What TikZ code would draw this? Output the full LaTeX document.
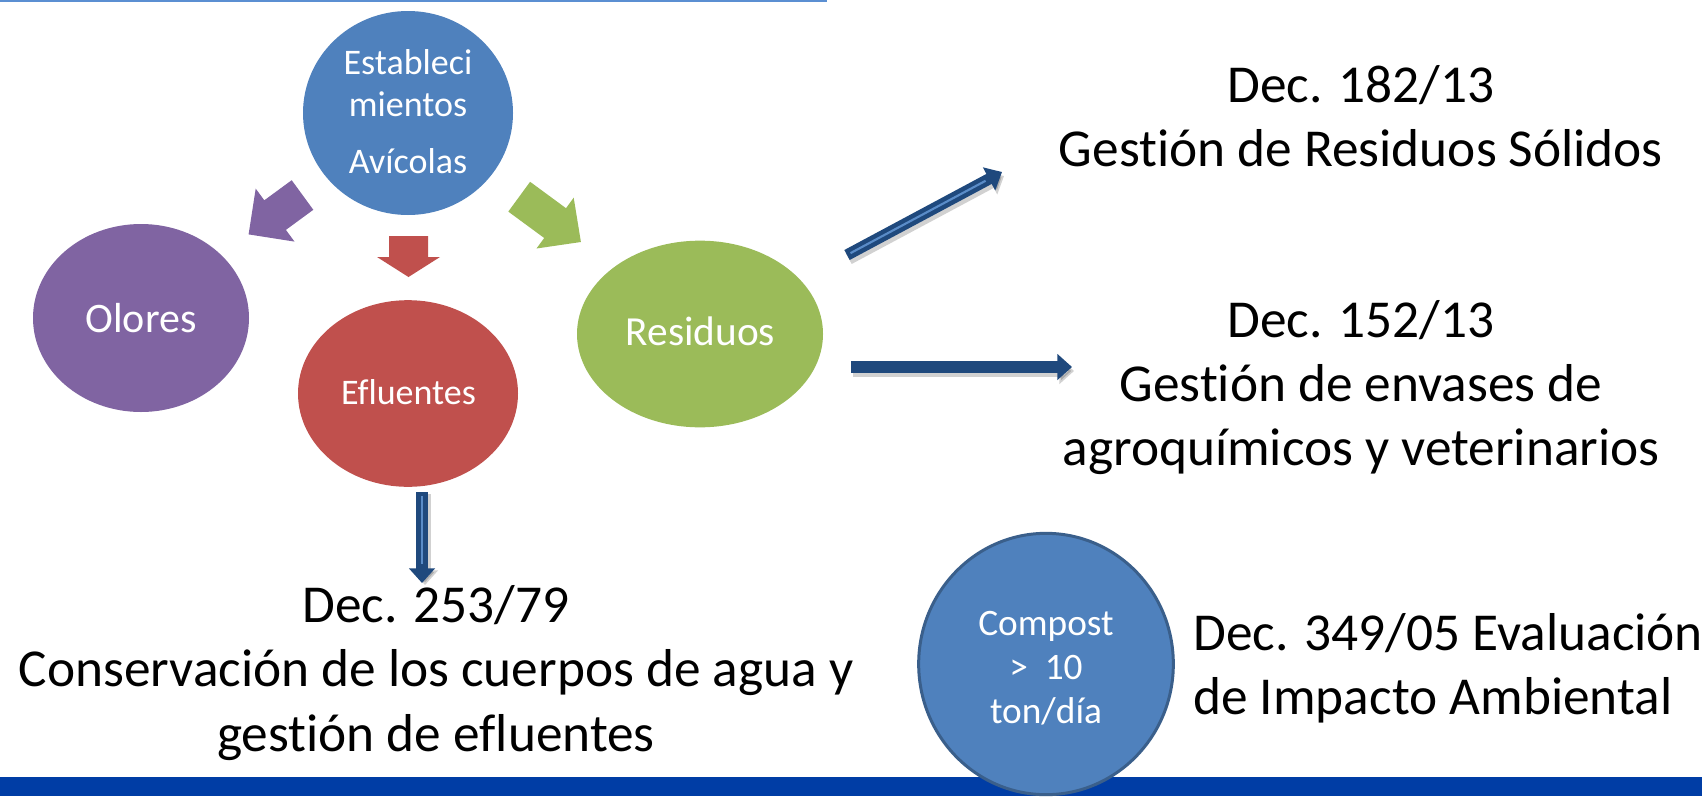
\documentclass[tikz,border=0pt]{standalone}
\usepackage{fontspec}
\setmainfont{Carlito}[Ligatures={NoCommon,NoContextual,NoRequired}]
\usetikzlibrary{shapes.geometric,arrows.meta}
\definecolor{cblue}{HTML}{4F81BD}
\definecolor{cline}{HTML}{5B8FD2}
\definecolor{cpurple}{HTML}{8064A2}
\definecolor{cred}{HTML}{C0504D}
\definecolor{cgreen}{HTML}{9BBB59}
\definecolor{cdark}{HTML}{1F497D}
\definecolor{cstripe}{HTML}{5A8CC8}
\definecolor{cbar}{RGB}{0,61,165}
\definecolor{cborder}{HTML}{3A5F8B}
\newcommand\tiSep{t\kern0pt i}
\begin{document}
\begin{tikzpicture}[x=0.75pt,y=-0.75pt,
  blob/.style={ellipse,inner sep=0pt},
  lbl/.style={anchor=base,inner sep=0pt,text=white},
  big/.style={anchor=base,inner sep=0pt,text=black,font=\fontsize{40}{48}\selectfont},
  thinarrow/.style={draw=cdark,line width=8.5pt,-{Triangle[width=19pt,length=11pt]}},
  shadowarrow/.style={draw=black,opacity=0.18,line width=8.5pt,-{Triangle[width=19pt,length=11pt]}},
  stripe/.style={draw=cstripe,line width=1.6pt,shorten >=14pt,shorten <=3pt}]
\useasboundingbox (0,0) rectangle (1702,796);
\clip (0,0) rectangle (1702,796);
\fill[white] (0,0) rectangle (1702,796);
% top rule
\coordinate (tl) at (0,1);
\coordinate (tr) at (827,1);
\draw[cline,line width=1.5pt] (tl) -- (tr);
% circles
\node[blob,fill=cblue,minimum width=157.5pt,minimum height=153pt] (estab) at (408,113) {};
\node[blob,fill=cpurple,minimum width=162pt,minimum height=141pt] (olores) at (141,318) {};
\node[blob,fill=cred,minimum width=165pt,minimum height=140pt] (eflu) at (408,393.5) {};
\node[blob,fill=cgreen,minimum width=184.5pt,minimum height=140pt] (resid) at (700,334) {};
% labels in circles
\node[lbl,font=\fontsize{27}{32}\selectfont] (estab1) at (408,74) {Estableci};
\node[lbl,font=\fontsize{27}{32}\selectfont] (estab2) at (408,116) {mientos};
\node[lbl,font=\fontsize{27}{32}\selectfont] (estab3) at (408,173) {Avícolas};
\node[lbl,font=\fontsize{31.5}{38}\selectfont] (olores1) at (141,332) {Olores};
\node[lbl,font=\fontsize{27}{32}\selectfont] (eflu1) at (408.5,404) {Efluentes};
\node[lbl,font=\fontsize{31}{37}\selectfont] (resid1) at (700.5,345) {Residuos};
% block arrows
\fill[cpurple] (313.3,209.8) -- (285.9,229.9) -- (294.5,241.6) -- (248.6,234.4) -- (255.7,188.6) -- (264.3,200.3) -- (291.7,180.2) -- cycle;
\fill[cgreen] (508.3,211.6) -- (544.2,238.0) -- (536.5,248.5) -- (580.9,242.0) -- (573.7,197.7) -- (566.0,208.2) -- (530.1,181.8) -- cycle;
\fill[cred] (389,236) -- (428,236) -- (428,257) -- (440,257) -- (408.5,277) -- (377,257) -- (389,257) -- cycle;
% thin arrows
\coordinate (r1s) at (847,255); \coordinate (r1e) at (1002,172);
\coordinate (r2s) at (851,367); \coordinate (r2e) at (1072,367);
\coordinate (e1s) at (422,492); \coordinate (e1e) at (422,583);
\draw[shadowarrow] ([shift={(2,4)}]r1s) -- ([shift={(2,4)}]r1e);
\draw[shadowarrow] ([shift={(2,4)}]r2s) -- ([shift={(2,4)}]r2e);
\draw[shadowarrow] ([shift={(3,2)}]e1s) -- ([shift={(3,2)}]e1e);
\draw[thinarrow] (r1s) -- (r1e);
\draw[stripe] (r1s) -- (r1e);
\draw[thinarrow] (r2s) -- (r2e);
\draw[thinarrow] (e1s) -- (e1e);
\draw[stripe] (e1s) -- (e1e);
% black texts
\node[big] (d182a) at (1361,102) {Dec. 182/13};
\node[big] (d182b) at (1361,166) {Ges\tiSep ón de Residuos Sólidos};
\node[big] (d152a) at (1361,337) {Dec. 152/13};
\node[big] (d152b) at (1361,401) {Ges\tiSep ón de envases de};
\node[big] (d152c) at (1361,465) {agroquímicos y veterinarios};
\node[big] (d253a) at (436,622) {Dec. 253/79};
\node[big] (d253b) at (436,686) {Conservación de los cuerpos de agua y};
\node[big] (d253c) at (436,751) {ges\tiSep ón de efluentes};
\node[big,anchor=base west] (d349a) at (1193,650) {Dec. 349/05 Evaluación};
\node[big,anchor=base west] (d349b) at (1193,714) {de Impacto Ambiental};
% bottom bar
\coordinate (bl) at (0,777);
\coordinate (br) at (1702,796);
\fill[cbar] (bl) rectangle (br);
% compost circle
\node[blob,fill=cblue,draw=cborder,line width=2.25pt,minimum width=191pt,minimum height=196pt] (compost) at (1046,664) {};
\node[lbl,font=\fontsize{28}{34}\selectfont] (comp1) at (1046,635) {Compost};
\node[lbl,font=\fontsize{28}{34}\selectfont] (comp2) at (1046,679) {> \ 10};
\node[lbl,font=\fontsize{28}{34}\selectfont] (comp3) at (1046,723) {ton/día};
\end{tikzpicture}
\end{document}
